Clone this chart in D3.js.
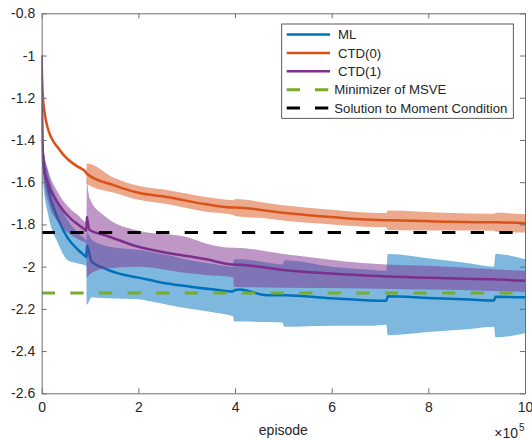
<!DOCTYPE html>
<html><head><meta charset="utf-8">
<script src="https://cdn.jsdelivr.net/npm/d3@7"></script>
<style>body{margin:0;background:#fff} svg{display:block}</style>
</head><body>
<svg id="c" width="532" height="440"></svg>
<script>
// ---- data (episode in units of 1e5) ----
const X_TICKS = [0, 2, 4, 6, 8, 10];
const Y_TICKS = [-0.8, -1, -1.2, -1.4, -1.6, -1.8, -2, -2.2, -2.4, -2.6];
const LEGEND_LABELS = ["ML", "CTD(0)", "CTD(1)", "Minimizer of MSVE", "Solution to Moment Condition"];

const X_ML    = [0, 0.01, 0.03, 0.13, 0.34, 0.54, 0.75, 0.9, 0.925, 0.935, 1.03, 1.3, 1.72, 2.0, 2.37, 2.6, 3.07, 3.62, 3.96, 3.98, 4.1, 4.66, 4.98, 5.02, 6.0, 6.8, 7.13, 7.16, 8.0, 8.87, 9.36, 9.39, 10];
const ML_MEAN = [-1.0, -1.35, -1.495, -1.63, -1.775, -1.865, -1.92, -1.95, -1.955, -1.90, -1.975, -2.008, -2.04, -2.052, -2.07, -2.08, -2.095, -2.11, -2.118, -2.112, -2.108, -2.135, -2.135, -2.135, -2.15, -2.16, -2.162, -2.14, -2.148, -2.156, -2.16, -2.143, -2.145];
const ML_LO   = [-1.0, -1.45, -1.6, -1.75, -1.89, -1.97, -1.985, -1.995, -2.0, -2.18, -2.145, -2.15, -2.152, -2.155, -2.17, -2.18, -2.2, -2.22, -2.235, -2.26, -2.26, -2.262, -2.265, -2.285, -2.28, -2.28, -2.275, -2.325, -2.31, -2.295, -2.285, -2.335, -2.315];
const ML_HI   = [-1.0, -1.28, -1.42, -1.55, -1.69, -1.78, -1.84, -1.87, -1.875, -1.84, -1.87, -1.90, -1.915, -1.92, -1.935, -1.945, -1.97, -1.99, -2.0, -1.965, -1.965, -1.98, -1.99, -1.97, -2.0, -2.015, -2.02, -1.94, -1.96, -1.985, -2.0, -1.94, -1.965];

const X_C0    = [0, 0.005, 0.02, 0.06, 0.12, 0.2, 0.35, 0.48, 0.7, 0.92, 0.935, 1.5, 2.0, 2.59, 3.4, 3.97, 4.0, 4.66, 5.0, 6.0, 6.7, 7.13, 7.16, 8.36, 9.36, 9.4, 10];
const C0_MEAN = [-1.0, -1.1, -1.18, -1.27, -1.34, -1.39, -1.44, -1.478, -1.52, -1.555, -1.56, -1.615, -1.65, -1.67, -1.705, -1.72, -1.72, -1.735, -1.745, -1.765, -1.777, -1.78, -1.78, -1.787, -1.79, -1.79, -1.795];
const C0_LO   = [-1.003, -1.105, -1.186, -1.276, -1.347, -1.397, -1.448, -1.486, -1.528, -1.563, -1.608, -1.65, -1.683, -1.703, -1.74, -1.755, -1.76, -1.772, -1.781, -1.80, -1.811, -1.814, -1.826, -1.829, -1.83, -1.835, -1.838];
const C0_HI   = [-0.997, -1.095, -1.174, -1.264, -1.333, -1.383, -1.432, -1.47, -1.512, -1.547, -1.512, -1.58, -1.617, -1.637, -1.67, -1.685, -1.68, -1.698, -1.709, -1.73, -1.743, -1.746, -1.734, -1.745, -1.75, -1.745, -1.752];

const X_C1    = [0, 0.005, 0.02, 0.05, 0.13, 0.34, 0.61, 0.75, 0.89, 0.925, 0.935, 0.96, 1.0, 1.3, 2.0, 3.0, 3.4, 3.96, 3.98, 5.0, 6.7, 8.4, 9.36, 10];
const C1_MEAN = [-1.0, -1.3, -1.45, -1.53, -1.605, -1.70, -1.775, -1.80, -1.824, -1.83, -1.765, -1.80, -1.828, -1.85, -1.906, -1.95, -1.965, -1.99, -1.99, -2.016, -2.042, -2.055, -2.06, -2.067];
const C1_LO   = [-1.0, -1.36, -1.52, -1.60, -1.69, -1.79, -1.85, -1.87, -1.885, -1.89, -2.05, -2.045, -2.035, -2.01, -2.0, -2.03, -2.04, -2.05, -2.095, -2.10, -2.103, -2.11, -2.115, -2.12];
const C1_HI   = [-1.0, -1.24, -1.38, -1.46, -1.54, -1.65, -1.73, -1.755, -1.787, -1.79, -1.59, -1.64, -1.68, -1.76, -1.83, -1.86, -1.89, -1.91, -1.91, -1.94, -1.984, -2.0, -2.012, -2.02];

const MSVE_LEVEL = -2.125;
const MOMENT_LEVEL = -1.838;
const X_RANGE = [0, 10];

// ---- drawing ----
const svg = d3.select("#c");
const L = 41.7, R = 525, T = 13.3, B = 393.3;
const FONT = "'Liberation Sans', Arial, Helvetica, sans-serif";
const TXT = "#262626";
const AX = "#6e6e6e";

const x = d3.scaleLinear().domain(X_RANGE).range([L, R]);
const y = d3.scaleLinear().domain([-2.6, -0.8]).range([B, T]);

svg.append("defs").append("clipPath").attr("id", "clip")
  .append("rect").attr("x", L).attr("y", T).attr("width", R - L).attr("height", B - T);

const plot = svg.append("g").attr("clip-path", "url(#clip)");

const series = [
  {color: "#0072BD", X: X_ML, m: ML_MEAN, lo: ML_LO, hi: ML_HI},
  {color: "#D95319", X: X_C0, m: C0_MEAN, lo: C0_LO, hi: C0_HI},
  {color: "#7E2F8E", X: X_C1, m: C1_MEAN, lo: C1_LO, hi: C1_HI}
];

const area = d3.area().curve(d3.curveMonotoneX).x(d => x(d.x)).y0(d => y(d.lo)).y1(d => y(d.hi));
const line = d3.line().curve(d3.curveMonotoneX).x(d => x(d.x)).y(d => y(d.m));

series.forEach(s => {
  const pts = s.X.map((v, i) => ({x: v, m: s.m[i], lo: s.lo[i], hi: s.hi[i]}));
  plot.append("path").attr("d", area(pts)).attr("fill", s.color).attr("fill-opacity", 0.5).attr("stroke", "none");
  plot.append("path").attr("d", line(pts)).attr("fill", "none").attr("stroke", s.color)
    .attr("stroke-width", 2.5).attr("stroke-linejoin", "round");
});

const hline = d3.line().x(d => x(d[0])).y(d => y(d[1]));
plot.append("path").attr("d", hline([[X_RANGE[0], MSVE_LEVEL], [X_RANGE[1], MSVE_LEVEL]]))
  .attr("stroke", "#77AC30").attr("stroke-width", 3).attr("stroke-dasharray", "13.3,15.3").attr("fill", "none");
plot.append("path").attr("d", hline([[X_RANGE[0], MOMENT_LEVEL], [X_RANGE[1], MOMENT_LEVEL]]))
  .attr("stroke", "#000").attr("stroke-width", 3).attr("stroke-dasharray", "13.3,15.3").attr("fill", "none");

// axes
const fmt = d => String(+d.toFixed(1));
function styleAxis(g) {
  g.selectAll("path.domain").attr("stroke", AX).attr("stroke-width", 1);
  g.selectAll(".tick line").attr("stroke", AX).attr("stroke-width", 1);
  g.selectAll("text").attr("fill", TXT).style("font-family", FONT).style("font-size", "14px");
}
svg.append("g").attr("transform", `translate(0,${B})`)
  .call(d3.axisBottom(x).tickValues(X_TICKS).tickFormat(fmt).tickSizeInner(-5).tickSizeOuter(0).tickPadding(9))
  .call(styleAxis);
svg.append("g").attr("transform", `translate(0,${T})`)
  .call(d3.axisTop(x).tickValues(X_TICKS).tickFormat("").tickSizeInner(-5).tickSizeOuter(0))
  .call(styleAxis);
svg.append("g").attr("transform", `translate(${L},0)`)
  .call(d3.axisLeft(y).tickValues(Y_TICKS).tickFormat(fmt).tickSizeInner(-5).tickSizeOuter(0).tickPadding(6.5))
  .call(styleAxis);
svg.append("g").attr("transform", `translate(${R},0)`)
  .call(d3.axisRight(y).tickValues(Y_TICKS).tickFormat("").tickSizeInner(-5).tickSizeOuter(0))
  .call(styleAxis);

svg.append("text").attr("x", (L + R) / 2).attr("y", 435).attr("text-anchor", "middle")
  .attr("fill", TXT).style("font-family", FONT).style("font-size", "14px").text("episode");
svg.append("text").attr("x", 518).attr("y", 438).attr("text-anchor", "end")
  .attr("fill", TXT).style("font-family", FONT).style("font-size", "14px").text("×10");
svg.append("text").attr("x", 519).attr("y", 431).attr("fill", TXT)
  .style("font-family", FONT).style("font-size", "10px").text("5");

// legend
const lg = svg.append("g");
lg.append("rect").attr("x", 281.7).attr("y", 24).attr("width", 231.6).attr("height", 94.3)
  .attr("fill", "#fff").attr("stroke", "#333").attr("stroke-width", 0.8);
const legendItems = [
  {color: "#0072BD", dash: null},
  {color: "#D95319", dash: null},
  {color: "#7E2F8E", dash: null},
  {color: "#77AC30", dash: "13.3,15"},
  {color: "#000000", dash: "13.3,15"}
];
legendItems.forEach((it, i) => {
  const yy = 34.5 + i * 18.4;
  lg.append("line").attr("x1", 286.7).attr("x2", 330).attr("y1", yy).attr("y2", yy)
    .attr("stroke", it.color).attr("stroke-width", it.dash ? 3 : 2.5)
    .attr("stroke-dasharray", it.dash);
  lg.append("text").attr("x", it.dash ? 334.3 : 338).attr("y", yy).attr("dy", "0.35em")
    .attr("fill", TXT).style("font-family", FONT).style("font-size", "13.2px").text(LEGEND_LABELS[i]);
});
</script>
</body></html>
